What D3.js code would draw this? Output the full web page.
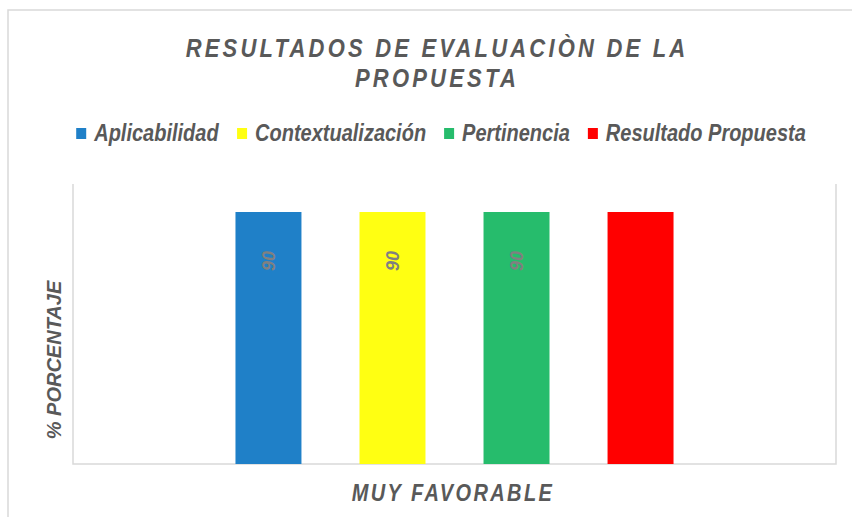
<!DOCTYPE html>
<html>
<head>
<meta charset="utf-8">
<script src="https://cdn.jsdelivr.net/npm/d3@7"></script>
<style>
  body { margin: 0; background: #fff; }
  text { font-family: "Liberation Sans", Arial, sans-serif; }
</style>
</head>
<body>
<svg id="chart"></svg>
<script>
// --- data ---
const categories = ["MUY FAVORABLE"];
const seriesNames = ["Aplicabilidad", "Contextualización", "Pertinencia", "Resultado Propuesta"];
const seriesValues = [90, 90, 90, 90];
const seriesColors = ["#1f80c8", "#ffff12", "#26bc6c", "#ff0000"];
const labelColors = ["#808080", "#808080", "#808080", "#ff0000"];
const titleLines = ["RESULTADOS DE EVALUACIÒN DE LA", "PROPUESTA"];
const yTitle = "% PORCENTAJE";

const width = 852, height = 517;
const textColor = "#595959";
const gridColor = "#d9d9d9";
const stretch = 1.2; // the original image is a bit taller than wide

const svg = d3.select("#chart").attr("width", width).attr("height", height);

// outer chart border (cut off on the right and bottom)
svg.append("path")
  .attr("d", `M8,${height} V10 H${width}`)
  .attr("fill", "none").attr("stroke", gridColor).attr("stroke-width", 1.5);

// plot area
const plot = { left: 73, right: 836, top: 184, bottom: 464 };

const x0 = d3.scaleBand().domain(categories)
  .range([plot.left, plot.right]).paddingOuter(0.269);
const x1 = d3.scaleBand().domain(seriesNames)
  .range([0, x0.bandwidth()]).paddingInner(0.468).paddingOuter(0.234);
const y = d3.scaleLinear().domain([0, 100]).range([plot.bottom, plot.top]);

// plot frame: left, right, bottom
svg.append("path")
  .attr("d", `M${plot.left},${plot.top} V${plot.bottom} H${plot.right} V${plot.top}`)
  .attr("fill", "none").attr("stroke", gridColor).attr("stroke-width", 1.5);

// bars
const group = svg.append("g").attr("transform", `translate(${x0(categories[0])},0)`);
group.selectAll("rect").data(seriesNames).join("rect")
  .attr("x", d => x1(d))
  .attr("y", (d, i) => y(seriesValues[i]))
  .attr("width", x1.bandwidth())
  .attr("height", (d, i) => y(0) - y(seriesValues[i]))
  .attr("fill", (d, i) => seriesColors[i]);

// value labels (rotated, read bottom to top)
group.selectAll("text.val").data(seriesNames).join("text")
  .attr("class", "val")
  .attr("transform", (d, i) => `translate(${x1(d) + x1.bandwidth() / 2},${y(seriesValues[i]) + 49}) rotate(-90)`)
  .attr("text-anchor", "middle").attr("dy", "0.35em")
  .attr("font-size", 18).attr("font-weight", "bold").attr("font-style", "italic")
  .attr("fill", (d, i) => labelColors[i])
  .text((d, i) => seriesValues[i]);

// title
svg.append("g").selectAll("text").data(titleLines).join("text")
  .attr("transform", (d, i) => `translate(437,${57 + i * 30}) scale(1,${stretch})`)
  .attr("text-anchor", "middle")
  .attr("font-size", 22).attr("font-weight", "bold").attr("font-style", "italic")
  .attr("letter-spacing", 3.2)
  .attr("fill", textColor)
  .text(d => d);

// legend
const legend = svg.append("g");
const items = legend.selectAll("g").data(seriesNames).join("g");
items.append("rect").attr("width", 10).attr("height", 11).attr("y", -13)
  .attr("fill", (d, i) => seriesColors[i]);
items.append("text").attr("transform", `translate(18,0) scale(1,${stretch})`)
  .attr("font-size", 20).attr("font-weight", "bold").attr("font-style", "italic")
  .attr("fill", textColor).text(d => d);
let lx = 0;
items.each(function () {
  d3.select(this).attr("transform", `translate(${lx},0)`);
  lx += this.getBBox().width + 18;
});
legend.attr("transform", `translate(${(width - (lx - 18)) / 2 + 15},141)`);

// axis titles
svg.append("text")
  .attr("transform", `translate(61,360) rotate(-90)`)
  .attr("text-anchor", "middle")
  .attr("font-size", 20).attr("font-weight", "bold").attr("font-style", "italic")
  .attr("fill", textColor).text(yTitle);

svg.append("text")
  .attr("transform", `translate(453,501) scale(1,${stretch})`)
  .attr("text-anchor", "middle")
  .attr("font-size", 20).attr("font-weight", "bold").attr("font-style", "italic")
  .attr("letter-spacing", 2.4)
  .attr("fill", textColor).text(categories[0]);
</script>
</body>
</html>
